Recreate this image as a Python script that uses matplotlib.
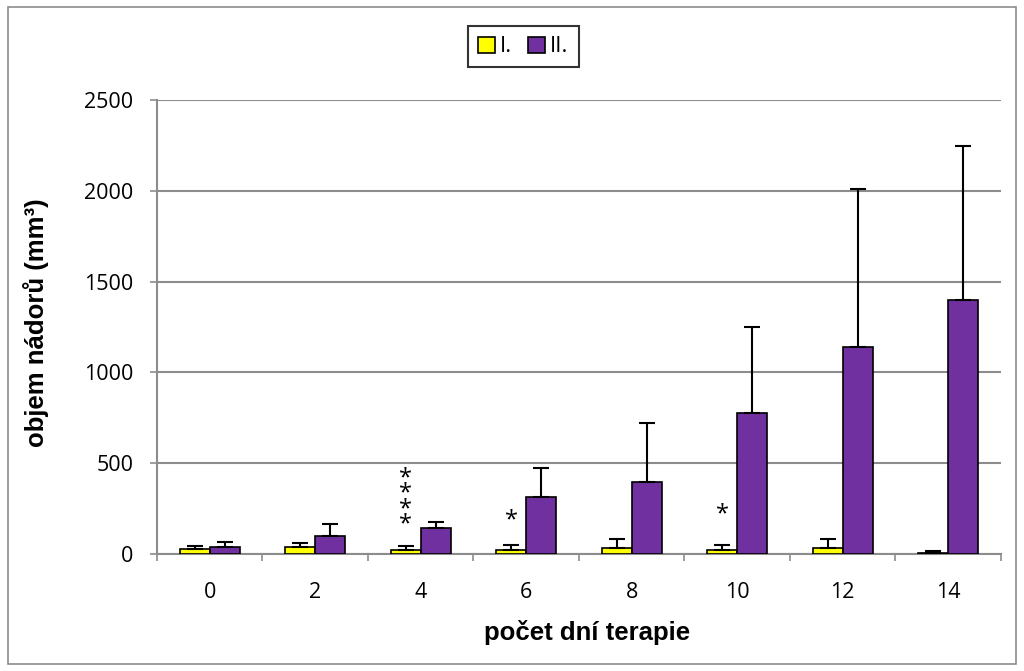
import numpy as np
import matplotlib.pyplot as plt
from matplotlib.patches import Rectangle

plt.rcParams['font.family'] = ['Open Sans', 'DejaVu Sans']

days = ['0', '2', '4', '6', '8', '10', '12', '14']
mean_I = [27, 40, 22, 22, 33, 22, 31, 3]
sd_I = [17, 20, 22, 29, 51, 26, 50, 15]
mean_II = [40, 99, 145, 316, 396, 776, 1140, 1399]
sd_II = [28, 64, 31, 156, 324, 474, 870, 848]
stars = {2: 4, 3: 1, 5: 1}  # category index -> number of asterisks
star_y = {2: 182, 3: 204, 5: 237}  # value where the lowest asterisk sits

fig = plt.figure(figsize=(10.24, 6.71), dpi=100)
ax = fig.add_axes([0.1533, 0.1744, 0.8242, 0.6766])

x = np.arange(len(days))
w = 0.285
grey = '#8c8c8c'
ax.bar(x - w / 2, mean_I, w, color='#ffff00', edgecolor='black', linewidth=1.2,
       yerr=[np.zeros(len(sd_I)), sd_I], capsize=6,
       error_kw=dict(elinewidth=1.5, capthick=1.5), label='I.', zorder=3)
ax.bar(x + w / 2, mean_II, w, color='#7030a0', edgecolor='black', linewidth=1.2,
       yerr=[np.zeros(len(sd_II)), sd_II], capsize=6,
       error_kw=dict(elinewidth=1.5, capthick=1.5), label='II.', zorder=3)

# significance marks, one text per group
for i, n in stars.items():
    ax.text(x[i] - w / 2, star_y[i] - 85, '\n'.join(['*'] * n), ha='center', va='bottom',
            fontsize=17, linespacing=0.52, color='black', zorder=4)

ax.set_xlim(-0.5, len(days) - 0.5)
ax.set_ylim(0, 2500)
ax.set_yticks(range(0, 2501, 500))
ax.set_xticks(x)
ax.set_xticklabels(days)
ax.set_xticks(np.arange(-0.5, len(days), 1), minor=True)
ax.tick_params(axis='x', which='major', length=0, pad=20, labelsize=15.5)
ax.tick_params(axis='x', which='minor', length=5, color=grey, width=1.2)
ax.tick_params(axis='y', length=5, color=grey, width=1.2, labelsize=15.5, pad=12)
ax.yaxis.grid(True, color=grey, linewidth=1.5, zorder=0)
ax.set_axisbelow(True)
for s in ['top', 'right']:
    ax.spines[s].set_visible(False)
for s in ['left', 'bottom']:
    ax.spines[s].set_color(grey)
    ax.spines[s].set_linewidth(1.5)

lab_font = dict(fontsize=18.5, fontweight='bold', family=['Liberation Sans', 'DejaVu Sans'])
ax.set_xlabel('počet dní terapie', **lab_font)
ax.set_ylabel('objem nádorů (mm³)', **lab_font)
ax.xaxis.set_label_coords(0.51, -0.145)
ax.yaxis.set_label_coords(-0.128, 0.51)

leg = fig.legend(loc='center', bbox_to_anchor=(0.511, 0.93), ncol=2, fontsize=16,
                 frameon=True, fancybox=False, edgecolor='black', handlelength=0.75,
                 handleheight=0.75, handletextpad=0.25, columnspacing=0.7,
                 borderpad=0.45)
leg.get_frame().set_linewidth(1.5)

fig.patches.append(Rectangle((0.008, 0.011), 0.984, 0.978, transform=fig.transFigure,
                             fill=False, edgecolor=grey, linewidth=1.2))

fig.savefig('out.png', dpi=100)
